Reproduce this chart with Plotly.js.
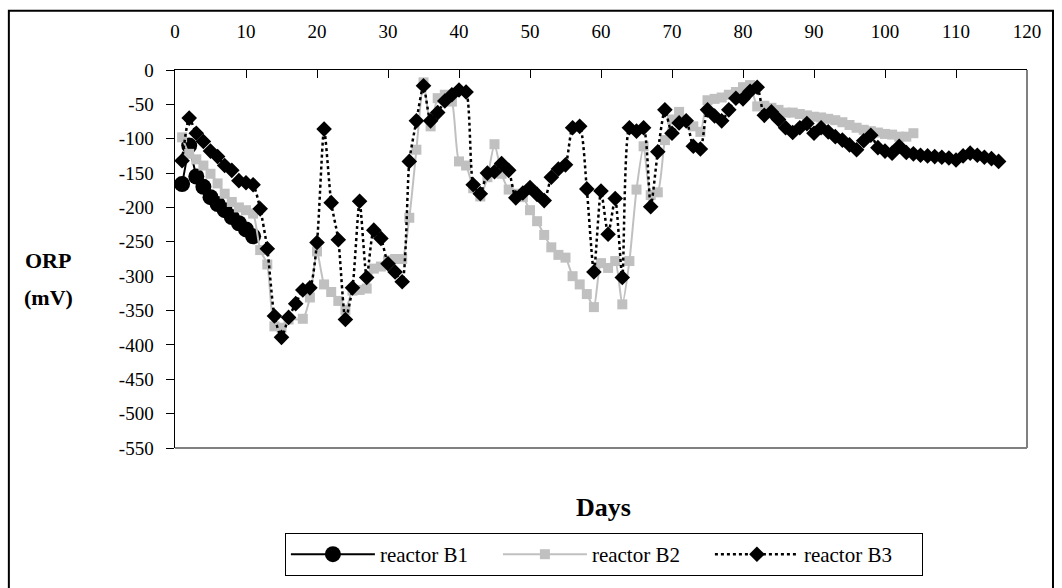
<!DOCTYPE html>
<html>
<head>
<meta charset="utf-8">
<script src="https://cdn.plot.ly/plotly-3.0.1.min.js"></script>
<style>
  html, body { margin: 0; padding: 0; background: #ffffff; }
  #chart { width: 1062px; height: 588px; }
</style>
</head>
<body>
<div id="chart"></div>
<script>
// ---- data ----
const b1Days = [1, 2, 3, 4, 5, 6, 7, 8, 9, 10, 11];
const b1Orp  = [-166, -110, -155, -170, -185, -195, -204, -214, -223, -232, -242];

const b2Days = [1, 2, 3, 4, 5, 6, 7, 8, 9, 10, 11, 12, 13, 14, 15, 16, 18, 19, 20,
  21, 22, 23, 24, 25, 26, 27, 28, 29, 30, 31, 32, 33, 34, 35, 36, 37, 38, 39, 40,
  41, 42, 43, 44, 45, 46, 47, 48, 49, 50, 51, 52, 53, 54, 55, 56, 57, 58, 59, 60,
  61, 62, 63, 64, 65, 66, 67, 68, 69, 70, 71, 73, 74, 75, 76, 77, 78, 79, 80,
  81, 82, 83, 84, 85, 86, 87, 88, 89, 90, 91, 92, 93, 94, 95, 96, 97, 98, 99, 100,
  101, 102, 103, 104];
const b2Orp = [-98, -122, -130, -139, -151, -165, -180, -192, -200, -204, -209, -262, -283, -373, -375, -363, -362, -331, -264,
  -312, -323, -336, -349, -321, -320, -318, -289, -286, -277, -275, -275, -215, -116, -18, -82, -41, -36, -46, -133,
  -139, -172, -184, -156, -108, -151, -174, -180, -185, -204, -220, -240, -258, -269, -273, -300, -312, -326, -345, -281,
  -288, -278, -341, -278, -174, -111, -182, -178, -102, -72, -61, -82, -90, -44, -42, -40, -36, -32, -25,
  -22, -53, -52, -55, -58, -62, -62, -64, -66, -68, -69, -71, -73, -76, -80, -84, -87, -89, -91, -93,
  -94, -97, -97, -92];

const b3Days = [1, 2, 3, 4, 5, 6, 7, 8, 9, 10, 11, 12, 13, 14, 15, 16, 17, 18, 19, 20,
  21, 22, 23, 24, 25, 26, 27, 28, 29, 30, 31, 32, 33, 34, 35, 36, 37, 38, 39, 40,
  41, 42, 43, 44, 45, 46, 47, 48, 49, 50, 51, 52, 53, 54, 55, 56, 57, 58, 59, 60,
  61, 62, 63, 64, 65, 66, 67, 68, 69, 70, 71, 72, 73, 74, 75, 76, 77, 78, 79, 80,
  81, 82, 83, 84, 85, 86, 87, 88, 89, 90, 91, 92, 93, 94, 95, 96, 97, 98, 99, 100,
  101, 102, 103, 104, 105, 106, 107, 108, 109, 110, 111, 112, 113, 114, 115, 116];
const b3Orp = [-132, -70, -92, -104, -118, -126, -139, -146, -161, -164, -167, -202, -260, -358, -389, -360, -340, -320, -317, -251,
  -86, -193, -247, -363, -317, -191, -302, -233, -245, -282, -294, -308, -133, -74, -23, -74, -62, -45, -36, -29,
  -32, -167, -180, -150, -148, -136, -146, -186, -179, -171, -181, -190, -156, -144, -138, -84, -82, -173, -294, -176,
  -239, -187, -302, -84, -89, -84, -199, -119, -58, -92, -77, -74, -111, -115, -58, -67, -74, -58, -41, -42,
  -31, -25, -66, -61, -72, -84, -91, -84, -78, -92, -84, -90, -97, -102, -109, -116, -103, -95, -113, -118,
  -121, -111, -120, -122, -124, -125, -126, -127, -128, -131, -125, -121, -124, -127, -129, -133];

const seriesNames = ['reactor B1', 'reactor B2', 'reactor B3'];
const xTitle = 'Days';
const yTitleLines = ['ORP', '(mV)'];
const xTickVals = [0, 10, 20, 30, 40, 50, 60, 70, 80, 90, 100, 110, 120];
const yTickVals = [0, -50, -100, -150, -200, -250, -300, -350, -400, -450, -500, -550];
const yTickText = ['0', '-50', '-100', '-150', '-200', '-250', '-300', '-350', '-400', '-450', '-500', '-550'];

// ---- chart ----
const FONT = 'Liberation Serif, Times New Roman, serif';

const traces = [
  {
    x: b1Days, y: b1Orp, name: seriesNames[0], type: 'scatter', mode: 'lines+markers',
    line: { color: '#000000', width: 2 },
    marker: { symbol: 'circle', size: 16, color: '#000000' }
  },
  {
    x: b2Days, y: b2Orp, name: seriesNames[1], type: 'scatter', mode: 'lines+markers',
    line: { color: '#c0c0c0', width: 2, shape: 'spline', smoothing: 0.6 },
    marker: { symbol: 'square', size: 10, color: '#c0c0c0' }
  },
  {
    x: b3Days, y: b3Orp, name: seriesNames[2], type: 'scatter', mode: 'lines+markers',
    line: { color: '#000000', width: 2.5, dash: '3px,3px', shape: 'spline', smoothing: 0.6 },
    marker: { symbol: 'diamond', size: 12, color: '#000000' }
  }
];

const layout = {
  width: 1062, height: 588,
  paper_bgcolor: '#ffffff', plot_bgcolor: '#ffffff',
  margin: { l: 175, r: 35, t: 70, b: 136, pad: 0 },
  font: { family: FONT, color: '#000000', size: 19 },
  showlegend: true,
  xaxis: {
    side: 'top', range: [0, 120], tickmode: 'array', tickvals: xTickVals,
    ticktext: xTickVals.map(String),
    ticks: 'inside', ticklen: 8, tickwidth: 1, tickcolor: '#000000',
    showline: true, linecolor: '#000000', linewidth: 1.5,
    showgrid: false, zeroline: false,
    tickfont: { family: FONT, size: 19, color: '#000000' },
    ticklabelstandoff: 23
  },
  yaxis: {
    range: [-550, 0], tickmode: 'array', tickvals: yTickVals, ticktext: yTickText,
    ticks: 'outside', ticklen: 8, tickwidth: 1, tickcolor: '#000000',
    showline: true, linecolor: '#000000', linewidth: 1.5,
    showgrid: false, zeroline: false,
    tickfont: { family: FONT, size: 19, color: '#000000' },
    ticklabelstandoff: 8
  },
  legend: {
    orientation: 'h', x: 0.129, y: -0.225, xanchor: 'left', yanchor: 'top',
    bordercolor: '#000000', borderwidth: 1, bgcolor: '#ffffff',
    font: { family: FONT, size: 21, color: '#000000' },
    itemwidth: 84, entrywidth: 113, entrywidthmode: 'pixels', traceorder: 'normal'
  },
  shapes: [
    { type: 'line', xref: 'paper', yref: 'paper', x0: 1, x1: 1, y0: 0, y1: 1,
      line: { color: '#808080', width: 2 } },
    { type: 'line', xref: 'paper', yref: 'paper', x0: 0, x1: 1, y0: 0, y1: 0,
      line: { color: '#808080', width: 2 } },
    { type: 'rect', xref: 'paper', yref: 'paper', x0: -0.195, x1: 1.0305, y0: -0.4, y1: 1.157,
      line: { color: '#000000', width: 2 }, fillcolor: 'rgba(0,0,0,0)' }
  ],
  annotations: [
    { text: '<b>' + yTitleLines[0] + '</b>', xref: 'paper', yref: 'paper', x: -0.149, y: 0.497,
      xanchor: 'center', yanchor: 'middle',
      showarrow: false, font: { family: FONT, size: 22, color: '#000000' } },
    { text: '<b>' + yTitleLines[1] + '</b>', xref: 'paper', yref: 'paper', x: -0.149, y: 0.398,
      xanchor: 'center', yanchor: 'middle',
      showarrow: false, font: { family: FONT, size: 22, color: '#000000' } },
    { text: '<b>' + xTitle + '</b>', xref: 'paper', yref: 'paper', x: 0.5035, y: -0.157,
      xanchor: 'center', yanchor: 'middle',
      showarrow: false, font: { family: FONT, size: 26, color: '#000000' } }
  ]
};

Plotly.newPlot('chart', traces, layout, { displayModeBar: false, staticPlot: true });
</script>
</body>
</html>
